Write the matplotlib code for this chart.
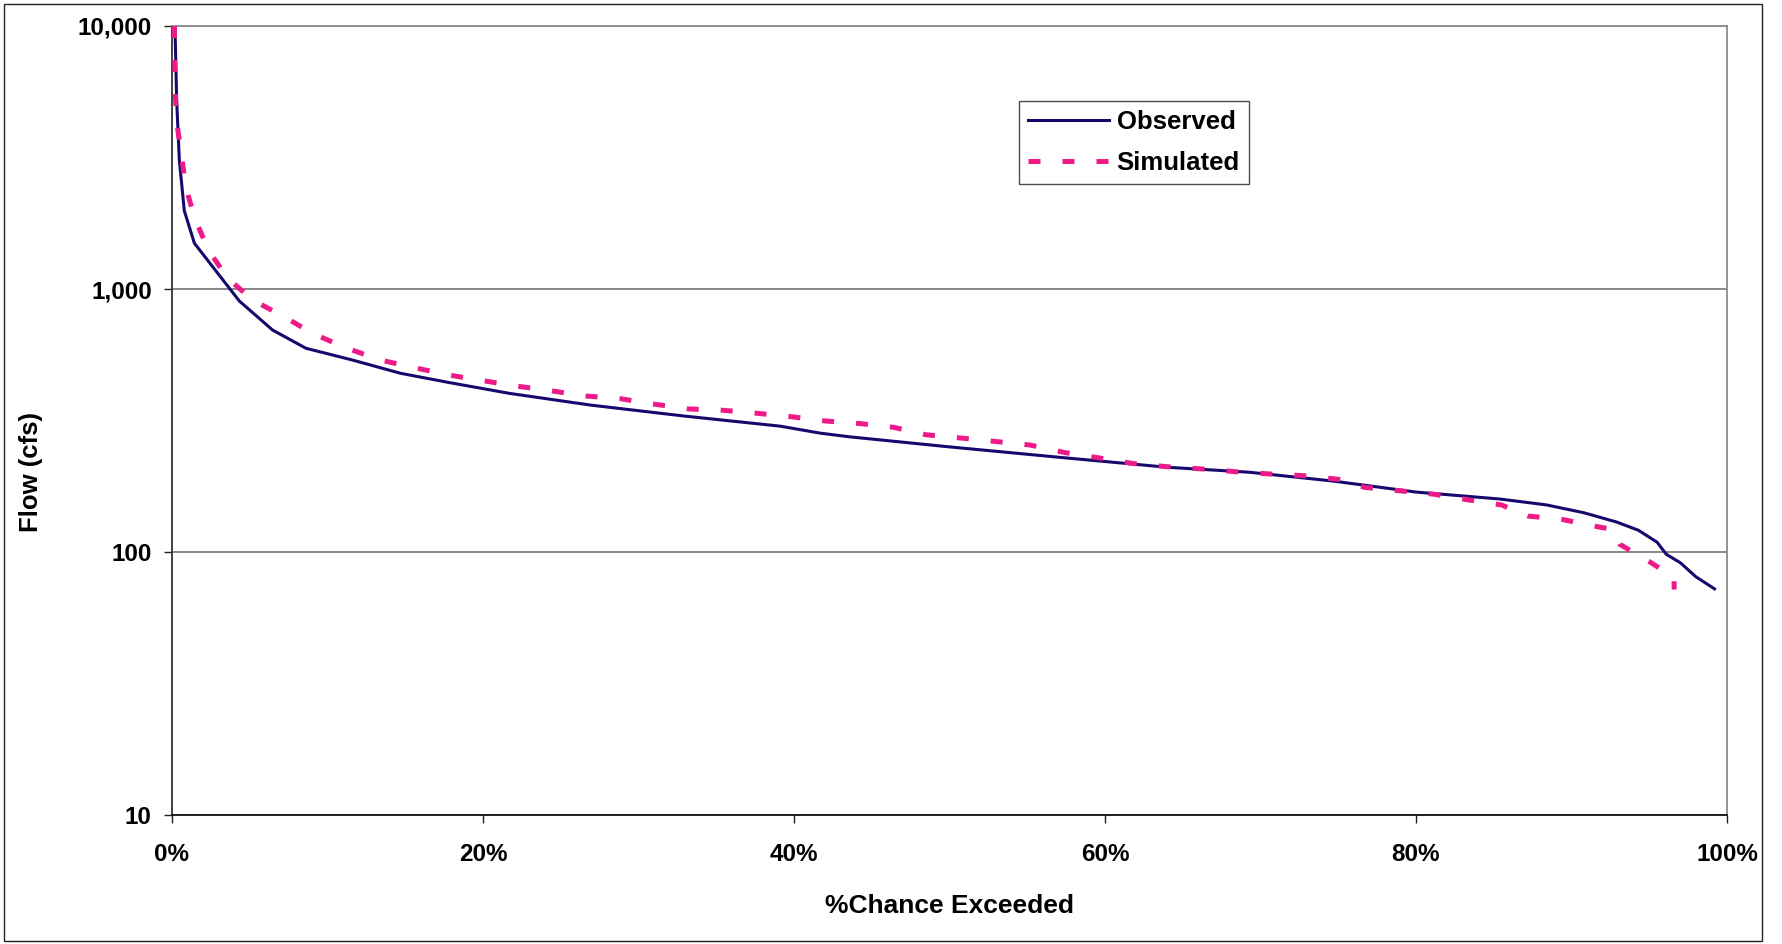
import matplotlib
matplotlib.use("Agg")
import matplotlib.pyplot as plt
from matplotlib.ticker import FixedLocator, FuncFormatter, NullLocator
from matplotlib.patches import Rectangle

# Flow-duration data: percent of time exceeded vs flow (cfs)
obs_pct = [0.19, 0.30, 0.47, 0.79, 1.44, 4.33, 6.47, 8.62, 11.6, 14.7, 17.9,
           21.7, 26.9, 32.9, 39.1, 41.7, 43.6, 50.0, 57.1, 64.0, 69.3, 74.7,
           80.0, 85.4, 88.4, 90.8, 92.9, 94.3, 95.5, 96.1, 97.0, 98.0, 99.2]
obs_flow = [10000, 5230, 3100, 1985, 1493, 900, 698, 595, 537, 478, 440,
            401, 362, 329, 301, 283, 274, 251, 229, 210, 201, 186,
            169, 159, 151, 141, 130, 121, 109, 98, 91, 80.5, 72.4]

sim_pct = [0.15, 0.20, 0.30, 0.60, 0.90, 1.5, 2.4, 3.6, 5.2, 7.2, 9.1, 11.2,
           13.4, 15.6, 17.8, 20.0, 22.2, 24.4, 26.6, 28.8, 31.0, 33.2, 35.4,
           37.6, 39.8, 42.0, 44.2, 46.4, 48.5, 50.8, 53.0, 55.2, 57.4, 59.6,
           61.8, 64.0, 66.2, 68.4, 70.6, 72.8, 75.0, 76.7, 78.9, 81.1, 83.3,
           85.5, 87.2, 89.4, 91.6, 92.6, 93.1, 95.0, 96.6, 96.6]
sim_flow = [10000, 5760, 4330, 3240, 2420, 1830, 1387, 1096, 907, 785, 675, 597,
            537, 502, 471, 448, 427, 410, 392, 383, 365, 350, 346,
            337, 327, 315, 308, 298, 279, 271, 263, 255, 239, 228,
            217, 211, 207, 202, 198, 195, 189, 176, 171, 166, 158,
            151, 137, 133, 125, 122, 107, 92, 80, 72]

x_ticks = [0, 20, 40, 60, 80, 100]
y_ticks = [10, 100, 1000, 10000]

W, H = 1783, 944
fig = plt.figure(figsize=(W / 100, H / 100), dpi=100)
fig.patch.set_facecolor("white")

# outer chart border
fig.add_artist(Rectangle((4 / W, 3 / H), 1758 / W, 937 / H, transform=fig.transFigure,
                         fill=False, edgecolor="#222222", linewidth=1.0))

ax = fig.add_axes([172 / W, 1 - 815 / H, (1727 - 172) / W, (815 - 26) / H])
ax.set_yscale("log")
ax.set_xlim(0, 100)
ax.set_ylim(10, 10000)

ax.plot(obs_pct, obs_flow, color="#16096e", lw=2.2, solid_joinstyle="round",
        label="Observed", zorder=3)
ax.plot(sim_pct, sim_flow, color="#ee1a87", lw=3.6, dashes=(2.4, 4.4),
        dash_capstyle="butt", label="Simulated", zorder=4)

# horizontal gridlines at each decade
ax.yaxis.set_major_locator(FixedLocator(y_ticks))
ax.yaxis.set_minor_locator(NullLocator())
ax.xaxis.set_major_locator(FixedLocator(x_ticks))
ax.grid(axis="y", which="major", color="#808080", lw=1.3)
ax.grid(axis="x", visible=False)
ax.set_axisbelow(True)

ax.yaxis.set_major_formatter(FuncFormatter(lambda v, p: f"{int(v):,}"))
ax.xaxis.set_major_formatter(FuncFormatter(lambda v, p: f"{int(v)}%"))

for s in ["top", "right"]:
    ax.spines[s].set_color("#8c8c8c")
    ax.spines[s].set_linewidth(1.3)
ax.spines["left"].set_color("#333333")
ax.spines["left"].set_linewidth(1.3)
ax.spines["bottom"].set_color("#111111")
ax.spines["bottom"].set_linewidth(1.3)

font = "Liberation Sans"
ax.tick_params(axis="both", direction="out", length=5.5, width=1.0, color="#222222")
ax.tick_params(axis="y", pad=9)
ax.tick_params(axis="x", pad=15)
for lab in ax.get_xticklabels() + ax.get_yticklabels():
    lab.set_fontfamily(font)
    lab.set_fontweight("bold")
    lab.set_fontsize(17.5)

ax.set_xlabel("%Chance Exceeded", fontfamily=font, fontweight="bold",
              fontsize=19, labelpad=20)
ax.set_ylabel("Flow (cfs)", fontfamily=font, fontweight="bold", fontsize=18.5)
ax.yaxis.set_label_coords(43 / W, 0.5, transform=fig.transFigure)

leg = ax.legend(loc="upper left", bbox_to_anchor=(1019 / W, 1 - 101 / H),
                bbox_transform=fig.transFigure, borderaxespad=0,
                prop={"family": font, "weight": "bold", "size": 18.5},
                handlelength=3.15, handletextpad=0.3, borderpad=0.35,
                labelspacing=0.65, frameon=True, fancybox=False)
leg.get_frame().set_edgecolor("#222222")
leg.get_frame().set_linewidth(1.0)

fig.savefig("out.png", dpi=100, facecolor="white")
